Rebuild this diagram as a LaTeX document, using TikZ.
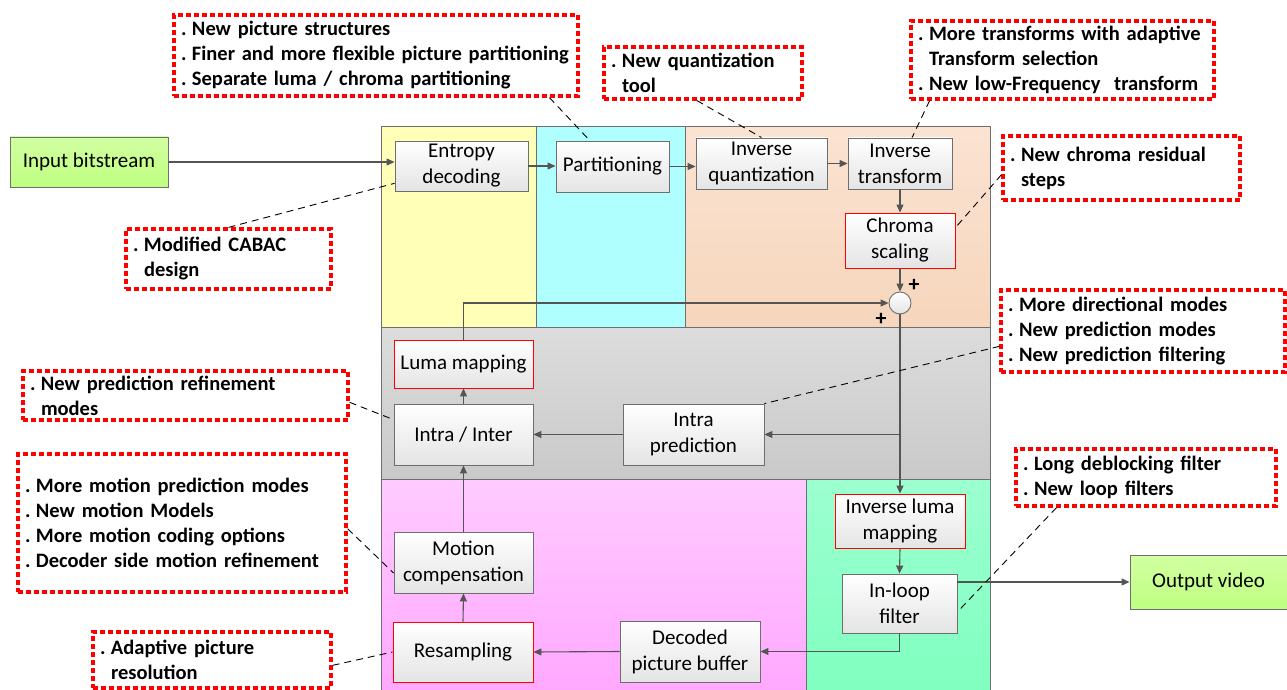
\documentclass[tikz,border=0pt]{standalone}
\usepackage{fontspec}
\setmainfont{Carlito}
\usetikzlibrary{arrows.meta,calc}
\definecolor{boxgray}{HTML}{6E6E6E}
\definecolor{boxbot}{HTML}{E4E4E4}
\definecolor{arrgray}{HTML}{555555}
\definecolor{yel}{HTML}{FFFFB8}
\definecolor{cya}{HTML}{B0FFFF}
\definecolor{peachT}{HTML}{FBE3D2}
\definecolor{peachB}{HTML}{F6D6BC}
\definecolor{grayT}{HTML}{DCDCDC}
\definecolor{grayB}{HTML}{C9C9C9}
\definecolor{pinkT}{HTML}{FFCBFF}
\definecolor{pinkB}{HTML}{FFA8FF}
\definecolor{grnT}{HTML}{9CFFD0}
\definecolor{grnB}{HTML}{80FFC0}
\definecolor{ioT}{HTML}{D2FFA2}
\definecolor{ioB}{HTML}{BEFF80}
\newcommand\boxfont{\fontsize{21}{26}\selectfont}
\newcommand\callfont{\bfseries\fontsize{20.5}{25}\selectfont}
\newcommand\bul[1]{\mbox{\makebox[13pt][l]{\hspace{2pt}.}#1}}
\newcommand\cont[1]{\mbox{\hspace*{13pt}#1}}
\begin{document}
\begin{tikzpicture}[x=1pt,y=-1pt,
  region/.style={draw=boxgray, line width=1pt},
  blk/.style={draw=boxgray, line width=0.9pt, top color=white, bottom color=boxbot, align=center, inner sep=2pt, font=\boxfont},
  redblk/.style={blk, draw=red},
  iobox/.style={draw=boxgray, line width=0.9pt, top color=ioT, bottom color=ioB, align=center, font=\boxfont},
  callout/.style={draw=red, line width=3.2pt, dash pattern=on 5pt off 3pt, align=left, inner xsep=5pt, inner ysep=2pt, font=\callfont},
  callline/.style={draw=black, line width=0.9pt, dash pattern=on 7pt off 5pt},
  arr/.style={draw=arrgray, line width=1.1pt, -{Triangle[length=8pt,width=7pt]}},
  plus/.style={font=\bfseries\fontsize{22}{22}\selectfont, inner sep=0pt},
  sumnode/.style={circle, draw=boxgray, line width=0.9pt, top color=white, bottom color=boxbot, minimum size=22pt, inner sep=0pt}
]
\useasboundingbox (0,0) rectangle (1287,690);
% regions
\path[region, fill=yel] (381,127) rectangle (536,327);
\path[region, fill=cya] (536,127) rectangle (685,327);
\path[region, top color=peachT, bottom color=peachB] (685,127) rectangle (990,327);
\path[region, top color=grayT, bottom color=grayB] (381,327) rectangle (990,479);
\path[region, top color=pinkT, bottom color=pinkB] (381,479) rectangle (806,690);
\path[region, top color=grnT, bottom color=grnB] (806,479) rectangle (990,690);
\draw[region] (381,127) rectangle (990,690);

% blocks
\node[iobox, minimum width=158pt, minimum height=50pt] (inb) at (89,162) {Input bitstream};
\node[blk, minimum width=133pt, minimum height=50pt] (ent) at (461.5,166) {Entropy\\decoding};
\node[blk, minimum width=113pt, minimum height=51pt] (part) at (612.5,166.5) {Partitioning};
\node[blk, minimum width=131pt, minimum height=51pt] (iq) at (761.5,163.5) {Inverse\\quantization};
\node[blk, minimum width=104pt, minimum height=51pt] (it) at (900,163.5) {Inverse\\transform};
\node[redblk, minimum width=110pt, minimum height=55pt] (cs) at (900,240.5) {Chroma\\scaling};
\node[sumnode] (sum) at (900,303) {};
\node[plus] (p1) at (914,285) {+};
\node[plus] (p2) at (881,319) {+};
\node[redblk, minimum width=139pt, minimum height=48pt] (lm) at (463.5,364) {Luma mapping};
\node[blk, minimum width=139pt, minimum height=61pt] (ii) at (463.5,434.5) {Intra / Inter};
\node[blk, minimum width=141pt, minimum height=61pt] (ip) at (693.5,434.5) {Intra\\prediction};
\node[blk, minimum width=139pt, minimum height=61pt] (mc) at (463.5,562.5) {Motion\\compensation};
\node[redblk, minimum width=140pt, minimum height=60pt] (rs) at (463,652) {Resampling};
\node[blk, minimum width=140pt, minimum height=61pt] (dpb) at (690,651.5) {Decoded\\picture buffer};
\node[redblk, minimum width=130pt, minimum height=54pt] (ilm) at (900,521) {Inverse luma\\mapping};
\node[blk, minimum width=115pt, minimum height=59pt] (ilf) at (899.5,603.5) {In-loop\\filter};
\node[iobox, minimum width=157pt, minimum height=54pt] (out) at (1208.5,582) {Output video};

% arrows
\draw[arr] (inb.east) -- (inb.east -| ent.west);
\draw[arr] (ent.east) -- (ent.east -| part.west);
\draw[arr] (part.east) -- (part.east -| iq.west);
\draw[arr] (iq.east) -- (iq.east -| it.west);
\draw[arr] (it.south) -- (cs.north);
\draw[arr] (cs.south) -- (sum.north);
\draw[arr] (lm.north) |- (sum.west);
\draw[arr] (sum.south) -- (ilm.north);
\coordinate (br) at (sum.south |- ip.east);
\draw[arr] (br) -- (ip.east);
\draw[arr] (ip.west) -- (ii.east);
\draw[arr] (ii.north) -- (lm.south);
\draw[arr] (mc.north) -- (ii.south);
\draw[arr] (rs.north) -- (mc.south);
\draw[arr] (dpb.west) -- (rs.east);
\draw[arr] (ilm.south) -- (ilf.north);
\draw[arr] (ilf.south) |- (dpb.east);
\draw[arr] (out.west -| ilf.east) -- (out.west);

% callouts
\node[callout, minimum width=404pt, minimum height=81pt, text width=394pt] (c1) at (376,55.5)
  {\bul{New picture structures}\\\bul{Finer and more flexible picture partitioning}\\\bul{Separate luma / chroma partitioning}};
\node[callout, minimum width=198pt, minimum height=52pt, text width=188pt] (c2) at (703,73)
  {\bul{New quantization}\\\cont{tool}};
\node[callout, minimum width=303pt, minimum height=78pt, text width=293pt] (c3) at (1062.5,60)
  {\bul{More transforms with adaptive}\\\cont{Transform selection}\\\bul{New low-Frequency\ \ transform}};
\node[callout, minimum width=237pt, minimum height=64pt, text width=227pt] (c4) at (1121.5,168)
  {\bul{New chroma residual}\\\cont{steps}};
\node[callout, minimum width=205pt, minimum height=60pt, text width=195pt] (c5) at (228.5,259)
  {\bul{Modified CABAC}\\\cont{design}};
\node[callout, minimum width=284pt, minimum height=82pt, text width=274pt] (c6) at (1143,331)
  {\bul{More directional modes}\\\bul{New prediction modes}\\\bul{New prediction filtering}};
\node[callout, minimum width=325pt, minimum height=49pt, text width=315pt] (c7) at (185.5,395.5)
  {\bul{New prediction refinement}\\\cont{modes}};
\node[callout, minimum width=328pt, minimum height=138pt, text width=318pt] (c8) at (182,523)
  {\bul{More motion prediction modes}\\\bul{New motion Models}\\\bul{More motion coding options}\\\bul{Decoder side motion refinement}};
\node[callout, minimum width=260pt, minimum height=57pt, text width=250pt] (c9) at (1146,477.5)
  {\bul{Long deblocking filter}\\\bul{New loop filters}};
\node[callout, minimum width=238pt, minimum height=56pt, text width=228pt] (c10) at (212,660)
  {\bul{Adaptive picture}\\\cont{resolution}};

% dashed leaders
\draw[callline] ($(c1.south west)!0.926!(c1.south east)$) -- ($(part.north west)!0.3!(part.north east)$);
\draw[callline] ($(c2.south west)!0.47!(c2.south east)$) -- (iq.north);
\draw[callline] ($(c3.south west)!0.066!(c3.south east)$) -- ($(it.north west)!0.615!(it.north east)$);
\draw[callline] ($(c4.north west)!0.6!(c4.south west)$) -- ($(cs.north east)!0.27!(cs.south east)$);
\draw[callline] (c5.north) -- ($(ent.north west)!0.84!(ent.south west)$);
\draw[callline] ($(c6.north west)!0.68!(c6.south west)$) -- (ip.north east);
\draw[callline] ($(c7.north east)!0.63!(c7.south east)$) -- ($(ii.north west)!0.26!(ii.south west)$);
\draw[callline] ($(c8.north east)!0.54!(c8.south east)$) -- ($(mc.north west)!0.67!(mc.south west)$);
\draw[callline] ($(c9.south west)!0.16!(c9.south east)$) -- ($(ilf.north east)!0.64!(ilf.south east)$);
\draw[callline] ($(c10.north east)!0.59!(c10.south east)$) -- (rs.west);
\end{tikzpicture}
\end{document}
